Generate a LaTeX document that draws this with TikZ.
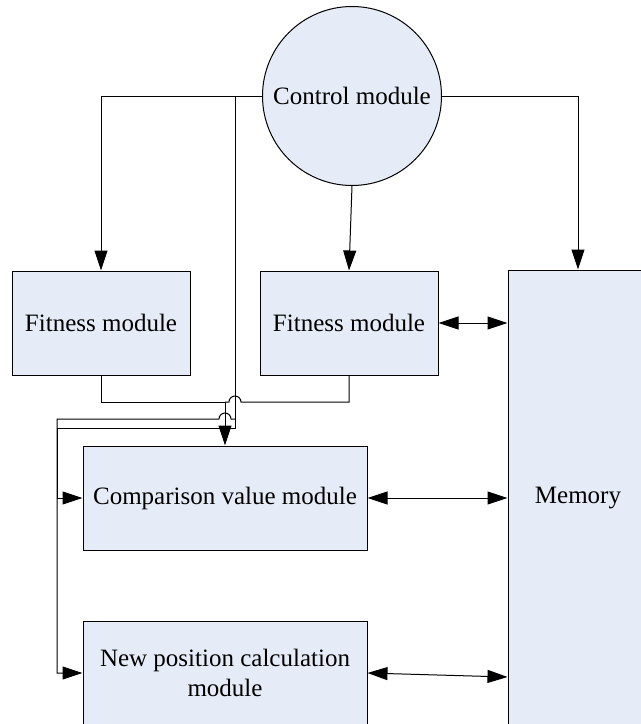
\documentclass[tikz,border=0pt]{standalone}
\usepackage{fontspec}
\setmainfont{Liberation Serif}
\usetikzlibrary{arrows.meta}
\definecolor{boxfill}{RGB}{230,236,247}
\tikzstyle{module}=[draw,fill=boxfill,line width=0.5pt,align=center,font=\fontsize{12.5}{15}\selectfont]
\tikzstyle{ctrl}=[module,circle,minimum size=89.5pt,inner sep=0pt]
\tikzstyle{wire}=[draw,line width=0.5pt]
\tikzstyle{edge}=[wire,-{Triangle[length=10pt,width=6.5pt]}]
\tikzstyle{link}=[wire,{Triangle[length=10pt,width=6.5pt]}-{Triangle[length=10pt,width=6.5pt]}]

\begin{document}
\begin{tikzpicture}[x=0.5pt,y=-0.5pt]
	\useasboundingbox (0,0) rectangle (641,724);
	% First we draw the modules
	\node[ctrl] (ctrl) at (352,96) {Control module};
	\foreach \pos/\name in {{(101,323)/fit1}, {(349,323)/fit2}}
		\node[module,minimum width=89pt,minimum height=52pt] (\name) at \pos {Fitness module};
	\node[module,minimum width=142pt,minimum height=52pt] (cmp) at (225,498) {Comparison value module};
	\node[module,minimum width=142pt,minimum height=52pt] (newpos) at (225,673) {New position calculation\\module};
	\node[module,minimum width=70pt,minimum height=228pt] (mem) at (578,498) {Memory};

	% Control lines
	\coordinate (br) at (235,96);
	\path[edge] (ctrl.west) -| (fit1.north);
	\path[edge] (ctrl.south) -- (fit2.north);
	\path[edge] (ctrl.east) -| (mem.north);
	\path[edge] (br) -- (235,428) -- (57,428) |- (cmp.west);
	\path[edge] (235,419) -- (231,419) arc (0:-180:6) -- (57,419) |- (newpos.west);

	% Fitness outputs join and go to the comparison
	\coordinate (mrg) at (225,402);
	\path[wire] (fit1.south) |- (mrg);
	\path[wire] (fit2.south) |- (241,402) arc (0:-180:6) -- (mrg);
	\path[edge] (mrg) -- (cmp.north);

	% Memory links
	\foreach \name in {fit2, cmp}
		\path[link] (\name.east) -- (mem.west |- \name.east);
	\path[link] (newpos.east) -- ([yshift=-2pt]mem.west |- newpos.east);
\end{tikzpicture}
\end{document}
